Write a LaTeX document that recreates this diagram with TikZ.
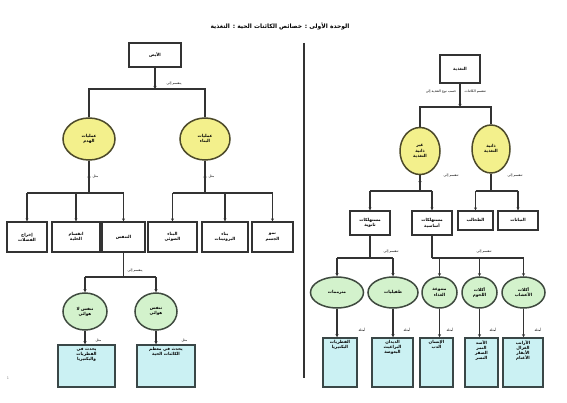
\documentclass[tikz,border=0pt]{standalone}
\usepackage{fontspec}
\usetikzlibrary{shapes.geometric,arrows.meta}
\newfontfamily\arabicfont[Script=Arabic]{DejaVu Sans}
\TeXXeTstate=1
\newcommand\AR[1]{\beginR #1\endR}
\definecolor{lnc}{HTML}{333333}
\definecolor{yfill}{HTML}{F3F08C}
\definecolor{ydraw}{HTML}{4D4A2A}
\definecolor{gfill}{HTML}{D3F2CC}
\definecolor{gdraw}{HTML}{3F4A3F}
\definecolor{cfill}{HTML}{CBF1F3}
\definecolor{cdraw}{HTML}{3A4747}
\tikzset{
  ln/.style={draw=lnc,line width=1.2pt},
  arr/.style={ln,-{Stealth[length=3pt,width=3pt]}},
  btxt/.style={font=\arabicfont\bfseries\fontsize{4.2}{5.1}\selectfont,align=center,text=black},
  wbox/.style={btxt,draw=lnc,line width=1.2pt,fill=white,inner sep=0pt},
  yell/.style={btxt,ellipse,draw=ydraw,line width=1.5pt,fill=yfill,inner sep=0pt},
  gell/.style={btxt,ellipse,draw=gdraw,line width=1.5pt,fill=gfill,inner sep=0pt},
  cbox/.style={draw=cdraw,line width=1.5pt,fill=cfill,inner sep=0pt},
  ctxt/.style={btxt,anchor=north,yshift=-3pt,inner sep=0pt},
  lbl/.style={font=\arabicfont\fontsize{3.4}{4}\selectfont,inner sep=0.5pt,text=black},
}
\begin{document}
\begin{tikzpicture}[x=1pt,y=-1pt]
\useasboundingbox (0,0) rectangle (567,403);
\fill[white] (0,0) rectangle (567,403);
% title and divider
\node[font=\arabicfont\bfseries\fontsize{6}{7}\selectfont] (title) at (280,26) {\beginR الوحدة الأولى : خصائص الكائنات الحية : التغذية\endR};
\coordinate (dvt) at (304,43);
\coordinate (dvb) at (304,378);
\draw[draw=lnc,line width=1.1pt] (dvt) -- (dvb);
\node[lbl,text=gray] (pg) at (8,378) {1};

% ================= LEFT =================
\node[wbox,minimum width=52,minimum height=24] (A) at (155,55) {\AR{الأيض}};
\coordinate (ja) at (155,89);
\node[yell,minimum width=52,minimum height=42] (L1) at (89,139) {\AR{عمليات}\\\AR{الهدم}};
\node[yell,minimum width=50,minimum height=42] (L2) at (205,139) {\AR{عمليات}\\\AR{البناء}};
\draw[ln] (L1.north) |- (ja) -| (L2.north);
\draw[arr] (A.south) -- (ja);
\node[lbl,anchor=west] (la) at (166,84) {\beginR ينقسم إلى\endR};

\node[wbox,minimum width=40,minimum height=30] (B1) at (27,237) {\AR{إخراج}\\\AR{الفضلات}};
\node[wbox,minimum width=48,minimum height=30] (B2) at (76,237) {\AR{انقسام}\\\AR{الخلية}};
\node[wbox,minimum width=43,minimum height=30] (B3) at (123.5,237) {\AR{التنفس}};
\node[wbox,minimum width=49,minimum height=30] (B4) at (172.5,237) {\AR{البناء}\\\AR{الضوئي}};
\node[wbox,minimum width=46,minimum height=30] (B5) at (225,237) {\AR{بناء}\\\AR{البروتينات}};
\node[wbox,minimum width=41,minimum height=30] (B6) at (272.5,237) {\AR{نمو}\\\AR{الجسم}};
\coordinate (yb) at (0,193);
\draw[ln] (B1.north |- yb) -- (B3.north |- yb);
\draw[ln] (B4.north |- yb) -- (B6.north |- yb);
\draw[ln] (L1.south) -- (L1.south |- yb);
\draw[ln] (L2.south) -- (L2.south |- yb);
\draw[arr] (L1.south) -- ++(0,19);
\draw[arr] (L2.south) -- ++(0,19);
\node[lbl,anchor=west] (m1) at (92,176) {\AR{مثل}};
\node[lbl,anchor=west] (m2) at (208,176) {\AR{مثل}};
\foreach \b in {B1,B2,B3,B4,B5,B6}{\draw[arr] (\b.north |- yb) -- (\b.north);}

\node[gell,minimum width=44,minimum height=37] (G1) at (85,311.5) {\beginR تنفس لا\endR\\\AR{هوائي}};
\node[gell,minimum width=42,minimum height=37] (G2) at (156,311.5) {\AR{تنفس}\\\AR{هوائي}};
\coordinate (yg) at (0,277);
\draw[ln] (B3.south) -- (B3.south |- yg);
\draw[ln] (G1.north |- yg) -- (G2.north |- yg);
\draw[arr] (G1.north |- yg) -- (G1.north);
\draw[arr] (G2.north |- yg) -- (G2.north);
\node[lbl,anchor=west] (lg) at (127,271) {\beginR ينقسم إلى\endR};

\node[cbox,minimum width=57,minimum height=42] (C1) at (86.5,366) {};
\node[ctxt] (C1t) at (C1.north) {\beginR يحدث في\endR\\\AR{الفطريات}\\\AR{والبكتيريا}};
\node[cbox,minimum width=58,minimum height=42] (C2) at (166,366) {};
\node[ctxt] (C2t) at (C2.north) {\beginR يحدث في معظم\endR\\\beginR الكائنات الحية\endR};
\draw[arr] (G1.south) -- (G1.south |- C1.north);
\draw[arr] (G2.south) -- (G2.south |- C2.north);
\node[lbl,anchor=west] (mc1) at (95,340) {\AR{مثل}};
\node[lbl,anchor=west] (mc2) at (181,340) {\AR{مثل}};

% ================= RIGHT =================
\node[wbox,minimum width=40,minimum height=28] (R) at (460,69) {\AR{التغذية}};
\coordinate (jr) at (460,107);
\node[yell,minimum width=40,minimum height=47] (Y1) at (420,151) {\AR{غير}\\\AR{ذاتية}\\\AR{التغذية}};
\node[yell,minimum width=38,minimum height=48] (Y2) at (491,149) {\AR{ذاتية}\\\AR{التغذية}};
\draw[ln] (Y1.north) |- (jr) -| (Y2.north);
\draw[arr] (R.south) -- (jr);
\node[lbl,anchor=east] (lr1) at (457,92) {\beginR حسب نوع التغذية إلى\endR};
\node[lbl,anchor=west] (lr2) at (464,92) {\beginR تنقسم الكائنات\endR};

\node[wbox,minimum width=40,minimum height=24] (D1) at (370,223) {\AR{مستهلكات}\\\AR{ثانوية}};
\node[wbox,minimum width=40,minimum height=24] (D2) at (432,223) {\AR{مستهلكات}\\\AR{أساسية}};
\node[wbox,minimum width=35,minimum height=19] (D3) at (475.5,220.5) {\AR{الطحالب}};
\node[wbox,minimum width=40,minimum height=19] (D4) at (518,220.5) {\AR{النباتات}};
\coordinate (yd) at (0,191);
\draw[ln] (D1.north |- yd) -- (D2.north |- yd);
\draw[ln] (D3.north |- yd) -- (D4.north |- yd);
\draw[ln] (Y1.south) -- (Y1.south |- yd);
\draw[ln] (Y2.south) -- (Y2.south |- yd);
\draw[arr] (Y1.south) -- ++(0,9);
\foreach \b in {D1,D2,D3,D4}{\draw[arr] (\b.north |- yd) -- (\b.north);}
\node[lbl,anchor=west] (ly1) at (443,176) {\beginR تنقسم إلى\endR};
\node[lbl,anchor=west] (ly2) at (507,176) {\beginR تنقسم إلى\endR};

\node[gell,minimum width=53,minimum height=31] (E1) at (337,292.5) {\AR{مترممات}};
\node[gell,minimum width=50,minimum height=31] (E2) at (393,292.5) {\AR{طفيليات}};
\node[gell,minimum width=35,minimum height=31] (E3) at (439.5,292.5) {\AR{متنوعة}\\\AR{الغذاء}};
\node[gell,minimum width=35,minimum height=31] (E4) at (479.5,292.5) {\AR{آكلات}\\\AR{اللحوم}};
\node[gell,minimum width=43,minimum height=31] (E5) at (523.5,292.5) {\AR{آكلات}\\\AR{الأعشاب}};
\coordinate (ye) at (0,258);
\draw[ln] (D1.south) -- (D1.south |- ye);
\draw[ln] (D2.south) -- (D2.south |- ye);
\draw[ln] (E1.north |- ye) -- (E2.north |- ye);
\draw[ln] (D2.south |- ye) -- (E5.north |- ye);
\foreach \e in {E1,E2,E3,E4,E5}{\draw[arr] (\e.north |- ye) -- (\e.north);}
\node[lbl,anchor=west] (le1) at (383,252) {\beginR تنقسم إلى\endR};
\node[lbl,anchor=west] (le2) at (476,252) {\beginR تنقسم إلى\endR};

\node[cbox,minimum width=34,minimum height=49] (F1) at (340,362.5) {};
\node[ctxt] (F1t) at (F1.north) {\AR{الفطريات}\\\AR{البكتيريا}};
\node[cbox,minimum width=41,minimum height=49] (F2) at (392.5,362.5) {};
\node[ctxt] (F2t) at (F2.north) {\AR{الديدان}\\\AR{البراغيث}\\\AR{البعوضة}};
\node[cbox,minimum width=33,minimum height=49] (F3) at (436.5,362.5) {};
\node[ctxt] (F3t) at (F3.north) {\AR{الإنسان}\\\AR{الدب}};
\node[cbox,minimum width=33,minimum height=49] (F4) at (481.5,362.5) {};
\node[ctxt] (F4t) at (F4.north) {\AR{الأسد}\\\AR{النمر}\\\AR{الصقر}\\\AR{النسر}};
\node[cbox,minimum width=40,minimum height=49] (F5) at (523,362.5) {};
\node[ctxt] (F5t) at (F5.north) {\AR{الأرانب}\\\AR{الغزال}\\\AR{الأبقار}\\\AR{الأغنام}};
\foreach \e/\f in {E1/F1,E2/F2,E3/F3,E4/F4,E5/F5}{\draw[arr] (\e.south) -- (\e.south |- \f.north);}
\node[lbl] (x1) at (362,330) {\AR{أمثلة}};
\node[lbl] (x2) at (407,330) {\AR{أمثلة}};
\node[lbl] (x3) at (450,330) {\AR{أمثلة}};
\node[lbl] (x4) at (493,330) {\AR{أمثلة}};
\node[lbl] (x5) at (538,330) {\AR{أمثلة}};
\end{tikzpicture}
\end{document}
